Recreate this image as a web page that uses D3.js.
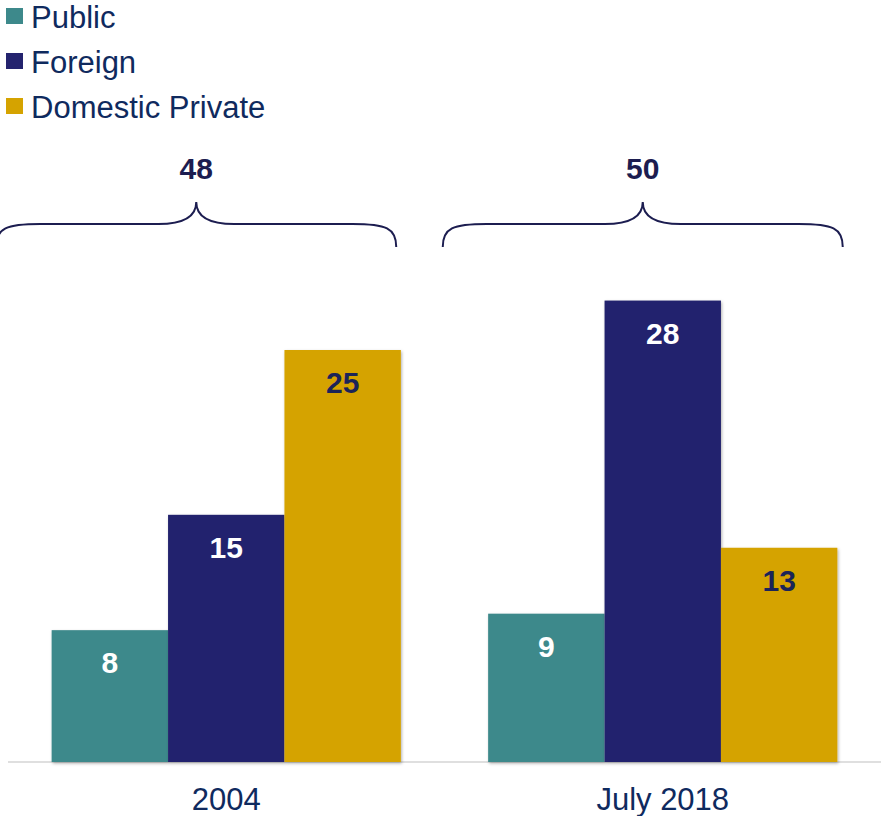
<!DOCTYPE html>
<html>
<head>
<meta charset="utf-8">
<script src="https://cdn.jsdelivr.net/npm/d3@7"></script>
<style>
  html, body { margin: 0; padding: 0; background: #fff; }
  svg { display: block; font-family: Arial, "Liberation Sans", sans-serif; }
</style>
</head>
<body>
<svg id="chart" width="881" height="816"></svg>
<script>
// chart data
var categories = ['2004', 'July 2018'];
var seriesNames = ['Public', 'Foreign', 'Domestic Private'];
var seriesColors = ['#3d898b', '#24236e', '#d5a300'];
var labelColors = ['#ffffff', '#ffffff', '#1b2458'];
var values = {
  'Public': [8, 9],
  'Foreign': [15, 28],
  'Domestic Private': [25, 13]
};
var totals = [48, 50];

(function (d3) {
  'use strict';
  var svg = d3.select('#chart');
  var navy = '#0f2a5e';

  var baseY = 762;
  var x0 = d3.scaleBand().domain(categories).range([8, 881]).paddingInner(0.2).paddingOuter(0.1);
  var x1 = d3.scaleBand().domain(seriesNames).range([0, x0.bandwidth()]);
  var y = d3.scaleLinear().domain([0, 30]).range([baseY, baseY - 494.4]);

  var defs = svg.append('defs');
  var shadow = defs.append('filter').attr('id', 'shadow')
    .attr('x', '-10%').attr('y', '-10%').attr('width', '130%').attr('height', '130%');
  shadow.append('feDropShadow').attr('dx', 1).attr('dy', 1.5).attr('stdDeviation', 1.5)
    .attr('flood-color', '#000').attr('flood-opacity', 0.3);

  /** baseline */
  var axis = svg.append('g').attr('transform', 'translate(0,' + baseY + ')')
    .call(d3.axisBottom(x0).tickSize(0).tickPadding(26));
  axis.select('.domain').attr('stroke', '#d4d4d4').attr('stroke-width', 1.5)
    .attr('d', 'M8,0H881');
  axis.selectAll('text').attr('font-size', 31).attr('fill', navy)
    .attr('font-family', 'Arial, "Liberation Sans", sans-serif');

  /** bars */
  var groups = svg.selectAll('.group').data(categories).enter().append('g')
    .attr('class', 'group')
    .attr('transform', function (c) { return 'translate(' + x0(c) + ',0)'; });

  var cells = groups.selectAll('.bar').data(function (c, ci) {
    return seriesNames.map(function (s, si) {
      return { series: s, index: si, value: values[s][ci] };
    });
  }).enter().append('g').attr('class', 'bar');

  cells.append('rect')
    .attr('x', function (d) { return x1(d.series); })
    .attr('width', x1.bandwidth())
    .attr('y', function (d) { return y(d.value); })
    .attr('height', function (d) { return y(0) - y(d.value); })
    .attr('fill', function (d) { return seriesColors[d.index]; })
    .attr('filter', 'url(#shadow)');

  cells.append('text')
    .attr('x', function (d) { return x1(d.series) + x1.bandwidth() / 2; })
    .attr('y', function (d) { return y(d.value) + 43; })
    .attr('text-anchor', 'middle')
    .attr('font-size', 30).attr('font-weight', 'bold')
    .attr('fill', function (d) { return labelColors[d.index]; })
    .text(function (d) { return d.value; });

  /** braces with totals */
  var braceTop = 202;
  var braceMid = 224;
  var braceBottom = 247;
  var braceHalf = 200;
  var braceShift = [-5, 5];
  var braceCenter = function (c, i) { return x0(c) + x0.bandwidth() / 2 - 25 + braceShift[i]; };
  var bracePath = function (left, right) {
    var mid = (left + right) / 2;
    var r = 32;
    return 'M' + left + ',' + braceBottom +
      'C' + left + ',' + (braceMid + 4) + ' ' + (left + 10) + ',' + braceMid + ' ' + (left + r + 12) + ',' + braceMid +
      'H' + (mid - r - 6) +
      'C' + (mid - 12) + ',' + braceMid + ' ' + mid + ',' + (braceMid - 8) + ' ' + mid + ',' + braceTop +
      'C' + mid + ',' + (braceMid - 8) + ' ' + (mid + 12) + ',' + braceMid + ' ' + (mid + r + 6) + ',' + braceMid +
      'H' + (right - r - 12) +
      'C' + (right - 10) + ',' + braceMid + ' ' + right + ',' + (braceMid + 4) + ' ' + right + ',' + braceBottom;
  };

  var braces = svg.selectAll('.brace').data(categories).enter().append('g').attr('class', 'brace');
  braces.append('path')
    .attr('d', function (c, i) {
      var m = braceCenter(c, i);
      return bracePath(m - braceHalf, m + braceHalf);
    })
    .attr('fill', 'none').attr('stroke', '#1c1d50').attr('stroke-width', 2);
  braces.append('text')
    .attr('x', braceCenter)
    .attr('y', 179)
    .attr('text-anchor', 'middle')
    .attr('font-size', 30).attr('font-weight', 'bold').attr('fill', '#1c1d50')
    .text(function (c, i) { return totals[i]; });

  /** legend */
  var legend = svg.selectAll('.legend').data(seriesNames).enter().append('g')
    .attr('class', 'legend')
    .attr('transform', function (s, i) { return 'translate(6,' + (8 + i * 45) + ')'; });
  legend.append('rect').attr('width', 17).attr('height', 16)
    .attr('fill', function (s, i) { return seriesColors[i]; });
  legend.append('text').attr('x', 25).attr('y', 20)
    .attr('font-size', 31).attr('fill', navy)
    .text(function (s) { return s; });
})(d3);
</script>
</body>
</html>
